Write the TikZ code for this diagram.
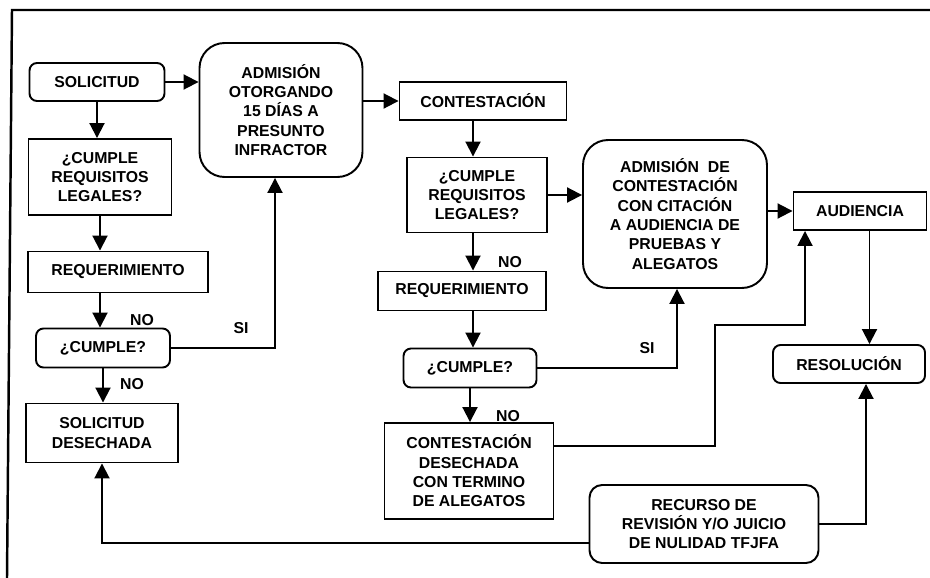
\documentclass[tikz,border=0pt]{standalone}
\usepackage{fontspec}
\setmainfont{Liberation Sans}
\usetikzlibrary{positioning,arrows.meta}

\begin{document}
\begin{tikzpicture}[x=0.02cm,y=-0.02cm,
  box/.style={draw,line width=1.1pt,align=center,inner sep=1pt,font=\fontsize{9}{11}\selectfont\bfseries},
  rbox/.style={box,rounded corners=1.5mm},
  bigbox/.style={box,rounded corners=5mm},
  lbl/.style={font=\fontsize{9}{11}\selectfont\bfseries},
  arr/.style={line width=1.1pt,-{Triangle[length=3mm,width=3mm]}}]
  \useasboundingbox (0,0) rectangle (930,578);
  \draw[line width=1.4pt] (930,10) -- (12,10) -- (7,578);
  % left column
  \node[rbox,minimum width=2.7cm,minimum height=0.76cm] (sol) at (97,82) {SOLICITUD};
  \node[box,minimum width=2.86cm,minimum height=1.52cm] (reqa) at (100,177) {¿CUMPLE\\REQUISITOS\\LEGALES?};
  \node[box,minimum width=3.6cm,minimum height=0.82cm] (requa) at (118,272) {REQUERIMIENTO};
  \node[rbox,minimum width=2.68cm,minimum height=0.78cm] (cumpa) at (103,348) {¿CUMPLE?};
  \node[box,minimum width=3.04cm,minimum height=1.18cm] (desa) at (102,433) {SOLICITUD\\DESECHADA};
  \node[bigbox,minimum width=3.26cm,minimum height=2.68cm] (adma) at (281,110) {ADMISIÓN\\OTORGANDO\\15 DÍAS A\\PRESUNTO\\INFRACTOR};
  % middle column
  \node[box,minimum width=3.34cm,minimum height=0.76cm] (con) at (483,101) {CONTESTACIÓN};
  \node[box,minimum width=2.8cm,minimum height=1.5cm] (reqb) at (477,195) {¿CUMPLE\\REQUISITOS\\LEGALES?};
  \node[box,minimum width=3.36cm,minimum height=0.78cm] (requb) at (462,291) {REQUERIMIENTO};
  \node[rbox,minimum width=2.66cm,minimum height=0.78cm] (cumpb) at (470,368) {¿CUMPLE?};
  \node[box,minimum width=3.38cm,minimum height=1.92cm] (desb) at (469,471) {CONTESTACIÓN\\DESECHADA\\CON TERMINO\\DE ALEGATOS};
  \node[bigbox,minimum width=3.68cm,minimum height=2.96cm] (admb) at (675,214) {ADMISIÓN\ \ DE\\CONTESTACIÓN\\CON CITACIÓN\\A AUDIENCIA DE\\PRUEBAS Y\\ALEGATOS};
  % right column
  \node[box,minimum width=2.66cm,minimum height=0.76cm] (aud) at (860,211) {AUDIENCIA};
  \node[rbox,minimum width=3.04cm,minimum height=0.76cm] (res) at (849,364) {RESOLUCIÓN};
  \node[box,rounded corners=2.5mm,minimum width=4.58cm,minimum height=1.56cm] (rec) at (704,524) {RECURSO DE\\REVISIÓN Y/O JUICIO\\DE NULIDAD TFJFA};
  % labels
  \node[lbl] (noa) at (142,320) {NO};
  \node[lbl] (nob) at (132,384) {NO};
  \node[lbl] (sia) at (241,328) {SI};
  \node[lbl] (noc) at (510,262) {NO};
  \node[lbl] (nod) at (508,416) {NO};
  \node[lbl] (sib) at (647,348) {SI};
  \coordinate (bend) at (715,325);
  % connectors
  \draw[arr] (sol.east) -- (sol.east -| adma.west);
  \draw[arr] (sol.south) -- (sol.south |- reqa.north);
  \draw[arr] (reqa.south) -- (reqa.south |- requa.north);
  \draw[arr] (reqa.south |- requa.south) -- (reqa.south |- cumpa.north);
  \draw[arr] (cumpa.south) -- (cumpa.south |- desa.north);
  \draw[arr] (cumpa.east) -| ([xshift=-1.2mm]adma.south);
  \draw[arr] (adma.east |- con.west) -- (con.west);
  \draw[arr] ([xshift=-2mm]con.south) -- ([xshift=-2mm]con.south |- reqb.north);
  \draw[arr] (reqb.east) -- (reqb.east -| admb.west);
  \draw[arr] ([xshift=-2mm]con.south |- reqb.south) -- ([xshift=-2mm]con.south |- requb.north);
  \draw[arr] ([xshift=-2mm]con.south |- requb.south) -- ([xshift=-2mm]con.south |- cumpb.north);
  \draw[arr] (cumpb.south) -- (cumpb.south |- desb.north);
  \draw[arr] (cumpb.east) -| ([xshift=0.4mm]admb.south);
  \draw[arr] (admb.east |- aud.west) -- (aud.west);
  \draw[arr] ([yshift=5mm]desb.east) -| (bend) -| ([xshift=-11mm]aud.south);
  \draw[arr] ([xshift=1.9mm]aud.south) -- ([xshift=1.9mm]aud.south |- res.north);
  \draw[arr] (rec.east) -| ([xshift=3.4mm]res.south);
  \draw[arr] ([yshift=-3.8mm]rec.west) -| (desa.south);
\end{tikzpicture}
\end{document}
